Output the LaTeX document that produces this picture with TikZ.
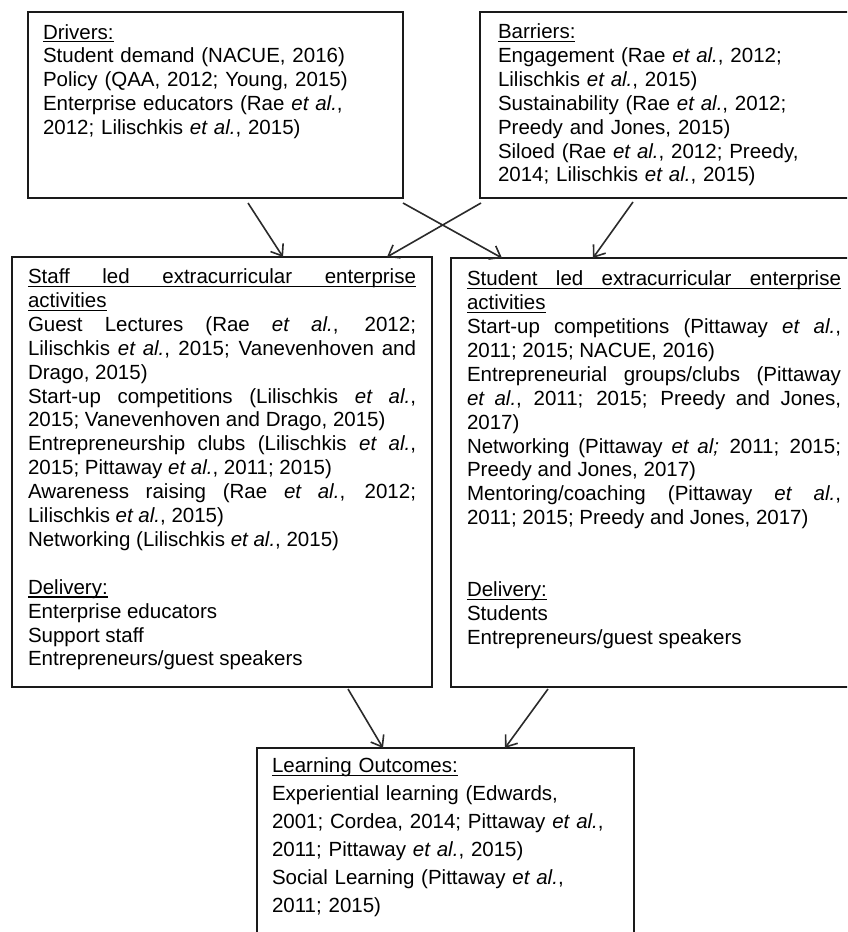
\documentclass[tikz,border=0pt]{standalone}
\usepackage{fontspec}
\setmainfont{Liberation Sans}
\usetikzlibrary{arrows.meta,calc}
\definecolor{boxline}{HTML}{1A1A1A}
\definecolor{arrowgray}{HTML}{2A2A2A}
\newcommand{\etal}{\textit{et al.}}
% underlined heading text
\newsavebox{\ulbox}
\newcommand{\uln}[1]{\sbox{\ulbox}{#1}\rlap{\rule[-3.4pt]{\wd\ulbox}{1.2pt}}\usebox{\ulbox}}
\tikzset{
  panel/.style={draw=boxline, line width=2pt, inner sep=0pt, outer sep=0pt, anchor=north west},
  body/.style={anchor=base west, inner sep=0pt, outer sep=0pt,
    font=\fontsize{20.5}{23.9}\selectfont},
  conn/.style={draw=arrowgray, line width=1.6pt,
    -{Straight Barb[length=10pt,width=15pt,line width=1.6pt]}},
}
\begin{document}
\begin{tikzpicture}[x=1pt,y=-1pt]
\useasboundingbox (0,0) rectangle (847,932);
\clip (0,0) rectangle (847,932);
\fill[white] (0,0) rectangle (847,932);

% frames
\node[panel, minimum width=375pt, minimum height=186pt] (drv) at (28,12) {};
\node[panel, minimum width=380pt, minimum height=186pt] (bar) at (480,12) {};
\node[panel, minimum width=420pt, minimum height=430pt] (staff) at (12,257) {};
\node[panel, minimum width=404pt, minimum height=429pt] (stud) at (451,258) {};
\node[panel, minimum width=377pt, minimum height=200pt] (learn) at (257,748) {};

% contents
\node[body, text width=355pt, align=left] (drvtext) at (43,39) {%
\uln{Drivers:}\\
Student demand (NACUE, 2016)\\
Policy (QAA, 2012; Young, 2015)\\
Enterprise educators (Rae \etal,\\
2012; Lilischkis \etal, 2015)};

\node[body, text width=340pt, align=left] (bartext) at (498,38.5) {%
\uln{Barriers:}\\
Engagement (Rae \etal, 2012;\\
Lilischkis \etal, 2015)\\
Sustainability (Rae \etal, 2012;\\
Preedy and Jones, 2015)\\
Siloed (Rae \etal, 2012; Preedy,\\
2014; Lilischkis \etal, 2015)};

\node[body, text width=388pt, align=justify] (stafftext) at (28,283.5) {%
\uln{\makebox[388pt][s]{Staff led extracurricular enterprise}}\\
\uln{activities}\\
Guest Lectures (Rae \etal, 2012;\linebreak
Lilischkis \etal, 2015; Vanevenhoven and\linebreak
Drago, 2015)\\
Start-up competitions (Lilischkis \etal,\linebreak
2015; Vanevenhoven and Drago, 2015)\\
Entrepreneurship clubs (Lilischkis \etal,\linebreak
2015; Pittaway \etal, 2011; 2015)\\
Awareness raising (Rae \etal, 2012;\linebreak
Lilischkis \etal, 2015)\\
Networking (Lilischkis \etal, 2015)\\[23.9pt]
\uln{Delivery:}\\
Enterprise educators\\
Support staff\\
Entrepreneurs/guest speakers};

\node[body, text width=374pt, align=justify] (studtext) at (467,285.7) {%
\uln{\makebox[374pt][s]{Student led extracurricular enterprise}}\\
\uln{activities}\\
Start-up competitions (Pittaway \etal,\linebreak
2011; 2015; NACUE, 2016)\\
Entrepreneurial groups/clubs (Pittaway\linebreak
\etal, 2011; 2015; Preedy and Jones,\linebreak
2017)\\
Networking (Pittaway \textit{et al;} 2011; 2015;\linebreak
Preedy and Jones, 2017)\\
Mentoring/coaching (Pittaway \etal,\linebreak
2011; 2015; Preedy and Jones, 2017)\\[47.8pt]
\uln{Delivery:}\\
Students\\
Entrepreneurs/guest speakers};

\node[body, text width=355pt, align=left, font=\fontsize{20.5}{27.9}\selectfont] (learntext) at (272,772.7) {%
\uln{Learning Outcomes:}\\
Experiential learning (Edwards,\\
2001; Cordea, 2014; Pittaway \etal,\\
2011; Pittaway \etal, 2015)\\
Social Learning (Pittaway \etal,\\
2011; 2015)};

% connectors
\draw[conn] ($(drv.south west)+(220,5)$) -- ($(staff.north west)+(271,0)$);
\draw[conn] ($(drv.south east)+(0,5)$) -- ($(stud.north west)+(51,0)$);
\draw[conn] ($(bar.south west)+(1,5)$) -- ($(staff.north west)+(375,0)$);
\draw[conn] ($(bar.south west)+(153,4)$) -- ($(stud.north west)+(142,0)$);
\draw[conn] ($(staff.south west)+(336,2)$) -- ($(learn.north west)+(126,0)$);
\draw[conn] ($(stud.south west)+(97,2)$) -- ($(learn.north west)+(248,0)$);
\end{tikzpicture}
\end{document}
